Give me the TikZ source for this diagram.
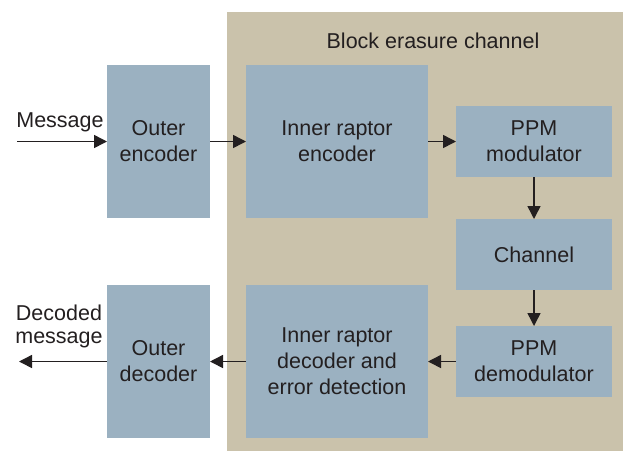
\documentclass[tikz,border=0pt]{standalone}
\usepackage{fontspec}
\setmainfont{Liberation Sans}
\usetikzlibrary{arrows.meta}
\definecolor{beige}{RGB}{202,194,171}
\definecolor{boxblue}{RGB}{155,177,193}
\definecolor{ink}{RGB}{35,31,32}
\begin{document}
\begin{tikzpicture}[x=1pt,y=-1pt,
  box/.style={fill=boxblue, draw=none, align=center, text=ink,
    font=\fontsize{21.5}{26}\selectfont, inner sep=0pt, outer sep=0pt},
  lbl/.style={align=center, text=ink, font=\fontsize{21.5}{23}\selectfont, inner sep=0pt},
  arr/.style={-{Triangle[length=13pt,width=13pt]}, line width=1.5pt, draw=ink}]
\useasboundingbox (0,0) rectangle (623,451);
\fill[beige] (227,12) rectangle (623,451);
\node[lbl] (title) at (433,41) {Block erasure channel};
\node[box, minimum width=103pt, minimum height=153pt] (oe) at (158.5,141.5) {Outer\\encoder};
\node[box, minimum width=182pt, minimum height=153pt] (ire) at (337,141.5) {Inner raptor\\encoder};
\node[box, minimum width=156pt, minimum height=71pt] (mod) at (534,141.5) {PPM\\modulator};
\node[box, minimum width=156pt, minimum height=71pt] (ch) at (534,254.5) {Channel};
\node[box, minimum width=156pt, minimum height=71pt] (dem) at (534,361.5) {PPM\\demodulator};
\node[box, minimum width=182pt, minimum height=153pt] (ird) at (337,361.5) {Inner raptor\\decoder and\\error detection};
\node[box, minimum width=103pt, minimum height=153pt] (od) at (158.5,361.5) {Outer\\decoder};
\node[lbl] (msg) at (60,122) {Message};
\node[lbl] (dmsg) at (59,326) {Decoded\\message};
\coordinate (in) at (17,141.5);
\coordinate (out) at (19,361.5);
\draw[arr] (in) -- (oe);
\draw[arr] (oe) -- (ire);
\draw[arr] (ire) -- (mod);
\draw[arr] (mod) -- (ch);
\draw[arr] (ch) -- (dem);
\draw[arr] (dem) -- (ird);
\draw[arr] (ird) -- (od);
\draw[arr] (od) -- (out);
\end{tikzpicture}
\end{document}
